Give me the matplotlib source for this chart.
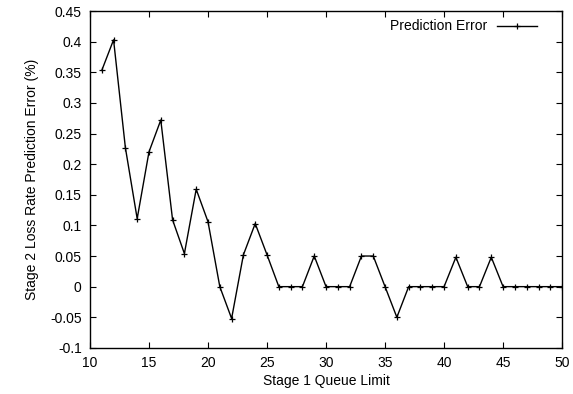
import matplotlib
matplotlib.use("Agg")
import matplotlib.pyplot as plt

queue_limit = list(range(11, 51))
pred_error = [0.353, 0.403, 0.227, 0.111, 0.220, 0.272, 0.109, 0.054, 0.159, 0.106,
              0.0, -0.052, 0.052, 0.103, 0.052, 0.0, 0.0, 0.0, 0.050, 0.0,
              0.0, 0.0, 0.050, 0.050, 0.0, -0.050, 0.0, 0.0, 0.0, 0.0,
              0.048, 0.0, 0.0, 0.048, 0.0, 0.0, 0.0, 0.0, 0.0, 0.0]

x_ticks = list(range(10, 51, 5))
y_ticks = [-0.1, -0.05, 0, 0.05, 0.1, 0.15, 0.2, 0.25, 0.3, 0.35, 0.4, 0.45]
y_labels = ["-0.1", "-0.05", "0", "0.05", "0.1", "0.15", "0.2", "0.25", "0.3", "0.35", "0.4", "0.45"]

plt.rcParams['font.family'] = ['Liberation Sans', 'DejaVu Sans']
plt.rcParams['font.size'] = 10

fig = plt.figure(figsize=(5.73, 3.94), dpi=100)
ax = fig.add_axes([0.157, 0.117, 0.824, 0.855])

ax.plot(queue_limit, pred_error, color='black', lw=1.0, marker='+', ms=5, mew=0.9,
        label='Prediction Error')

ax.set_xlim(10, 50)
ax.set_ylim(-0.1, 0.45)
ax.set_xticks(x_ticks)
ax.set_yticks(y_ticks)
ax.set_yticklabels(y_labels)
ax.tick_params(direction='in', top=True, right=True, length=4, width=0.8, pad=6)
for s in ax.spines.values():
    s.set_linewidth(1.0)

ax.set_xlabel("Stage 1 Queue Limit", labelpad=3)
ax.set_ylabel("Stage 2 Loss Rate Prediction Error (%)", labelpad=8)

ax.legend(loc='upper right', bbox_to_anchor=(0.965, 1.0), frameon=False,
          markerfirst=False, handlelength=2.9, handletextpad=0.7,
          borderaxespad=0.2, fontsize=10)

fig.savefig("out.png", dpi=100)
